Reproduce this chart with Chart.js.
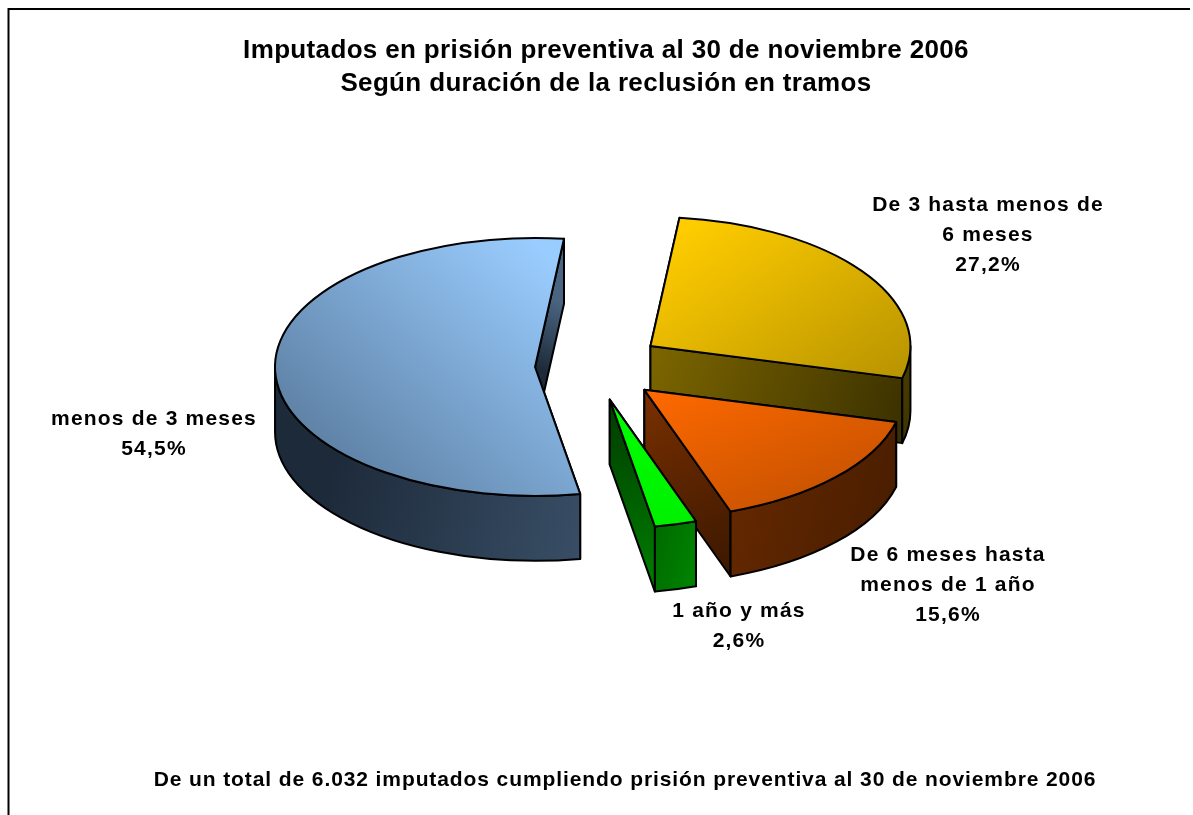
<!DOCTYPE html>
<html><head><meta charset="utf-8">
<script src="https://cdn.jsdelivr.net/npm/chart.js@4"></script>
<style>html,body{margin:0;padding:0;background:#fff}#w{width:1193px;height:815px;position:relative}</style>
</head><body><div id="w"><canvas id="c" width="1193" height="815"></canvas></div>
<script>
const categories = ['menos de 3 meses','De 3 hasta menos de 6 meses','De 6 meses hasta menos de 1 año','1 año y más'];
const percentages = [54.5,27.2,15.6,2.6];
const percentLabels = ['54,5%','27,2%','15,6%','2,6%'];
const titleLines = ['Imputados en prisión preventiva al 30 de noviembre 2006','Según duración de la reclusión en tramos'];
const footNote = 'De un total de 6.032 imputados cumpliendo prisión preventiva al 30 de noviembre 2006';

// styling (not data)
const squash = 0.496, depth = 65, pieRadius = 260, firstAngle = 170, pieShiftX = -14;
const explode = [57,71,71,70];
const topStops = [['#9ACDFF','#5F82A6'],['#FFCC00','#B89400'],['#FF6900','#BF4F00'],['#00FF00','#00F000']];
const topVectors = [[0.2,-0.6,-1.1,0.1],[-0.1,-0.6,1,0.2],[0,0,0.8,1],[0,0,0,1]];
const wallStops = [['#1D2A3A','#4A6581'],['#7D6600','#3A3000'],['#7A3000','#3A1700'],['#003A00','#008000']];
const outerStops = [['#1D2A3A','#4A6581'],['#7D6600','#3A3000'],['#6E2C00','#481D00'],['#004A00','#008800']];
const outerRange = [[0.15,0.95],[0.72,1],[0.55,1],[0.5,0.72]];
const labelLayout = [
  {lines:['menos de 3 meses'],x:154,y:419},
  {lines:['De 3 hasta menos de','6 meses'],x:988,y:205},
  {lines:['De 6 meses hasta','menos de 1 año'],x:948,y:555},
  {lines:['1 año y más'],x:739,y:611}
];
const FONT = '"Liberation Sans", Arial, sans-serif';

function faceGradient(c){
  const chart=c.chart, a=chart.chartArea, i=c.dataIndex; if(!a) return topStops[i][0];
  const x=(a.left+a.right)/2, y=(a.top+a.bottom)/2, r=pieRadius, v=topVectors[i];
  const g=chart.ctx.createLinearGradient(x+r*v[0],y+r*v[1],x+r*v[2],y+r*v[3]);
  g.addColorStop(0,topStops[i][0]); g.addColorStop(1,topStops[i][1]); return g;
}
function sliceCentre(el,i){
  const mid=(el.startAngle+el.endAngle)/2;
  return {dx:pieShiftX+Math.cos(mid)*explode[i], dy:Math.sin(mid)*explode[i]*squash};
}
const pie3d = {
  id:'pie3d',
  beforeDraw(chart){
    const c=chart.ctx; c.save(); c.strokeStyle='#000'; c.lineWidth=2;
    c.beginPath(); c.moveTo(8.5,815); c.lineTo(8.5,9); c.lineTo(1190,9); c.stroke(); c.restore();
    c.letterSpacing='0.35px';
  },
  beforeDatasetsDraw(chart){
    const c=chart.ctx, meta=chart.getDatasetMeta(0);
    meta.data.forEach((el,i)=>{
      const o=sliceCentre(el,i), r=el.outerRadius;
      const cx=el.x+o.dx, cy=el.y+o.dy, ry=r*squash;
      const px=a=>cx+Math.cos(a)*r, py=a=>cy+Math.sin(a)*ry;
      const a0=el.startAngle, a1=el.endAngle;
      c.save(); c.lineJoin='round'; c.strokeStyle='#000'; c.lineWidth=2;
      // radial walls
      [a0,a1].forEach(a=>{
        const g=c.createLinearGradient(cx,cy,px(a),py(a)+depth);
        g.addColorStop(0,wallStops[i][0]); g.addColorStop(1,wallStops[i][1]);
        c.fillStyle=g; c.beginPath(); c.moveTo(cx,cy); c.lineTo(px(a),py(a));
        c.lineTo(px(a),py(a)+depth); c.lineTo(cx,cy+depth); c.closePath(); c.fill(); c.stroke();
      });
      // outer wall: only the stretches facing the viewer
      const g=c.createLinearGradient(cx-r,cy,cx+r,cy+ry);
      g.addColorStop(outerRange[i][0],outerStops[i][0]); g.addColorStop(outerRange[i][1],outerStops[i][1]);
      c.fillStyle=g;
      const cuts=[a0];
      for(let k=Math.ceil(a0/Math.PI);k*Math.PI<a1;k++){ if(k*Math.PI>a0) cuts.push(k*Math.PI); }
      cuts.push(a1);
      for(let k=0;k<cuts.length-1;k++){
        const s=cuts[k], e=cuts[k+1];
        if(Math.sin((s+e)/2)<=0) continue;
        c.beginPath();
        c.ellipse(cx,cy,r,ry,0,s,e,false);
        c.ellipse(cx,cy+depth,r,ry,0,e,s,true);
        c.closePath(); c.fill(); c.stroke();
      }
      // top face, drawn by the library's arc element under a flattening transform
      c.save(); c.translate(cx,cy); c.scale(1,squash); c.translate(-el.x,-el.y);
      el.draw(c);
      c.beginPath(); c.moveTo(el.x,el.y); c.arc(el.x,el.y,r,a0,a1); c.closePath();
      c.restore(); c.stroke();
      c.restore();
    });
    // labels
    c.save(); c.fillStyle='#000'; c.font='bold 21px '+FONT; c.textAlign='center'; c.textBaseline='middle';
    c.letterSpacing='1.2px';
    labelLayout.forEach((l,i)=>{
      const lines=l.lines.concat([percentLabels[i]]);
      lines.forEach((t,k)=>c.fillText(t,l.x,l.y+k*30));
    });
    c.letterSpacing='0.9px';
    c.fillText(footNote,625,780);
    c.restore();
    return false;
  }
};
new Chart(document.getElementById('c'),{
  type:'pie',
  data:{labels:categories,datasets:[{data:percentages,backgroundColor:faceGradient,borderWidth:0}]},
  plugins:[pie3d],
  options:{
    responsive:false,animation:false,rotation:firstAngle,radius:pieRadius,
    layout:{padding:{left:19,right:0,top:26,bottom:193}},
    events:[],
    plugins:{
      legend:{display:false},tooltip:{enabled:false},
      title:{display:true,text:titleLines,color:'#000',font:{family:FONT,size:26,weight:'bold',lineHeight:1.27},padding:{top:8,bottom:10}}
    }
  }
});
</script></body></html>
